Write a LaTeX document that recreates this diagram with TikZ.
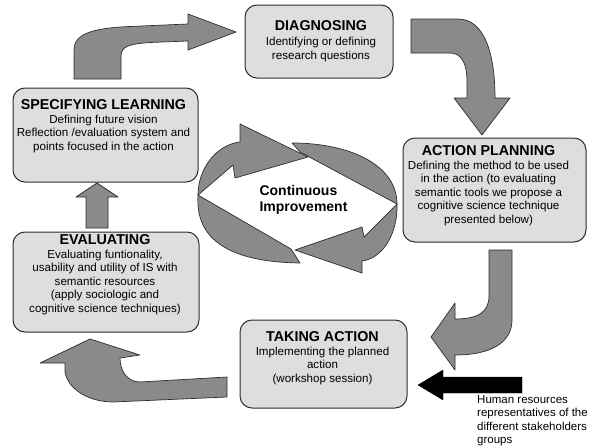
\documentclass[tikz,border=0pt]{standalone}
\usepackage{fontspec}
\setmainfont{Liberation Sans}
\usetikzlibrary{positioning}
\definecolor{boxgray}{RGB}{222,222,222}
\definecolor{arrowgray}{RGB}{138,138,138}
\definecolor{edgegray}{RGB}{45,45,45}
\newcommand{\titolo}[1]{{\fontsize{14.3}{13.5}\selectfont\bfseries #1}}

\begin{document}
\begin{tikzpicture}[x=1pt, y=-1pt, line join=round,
  box/.style={draw=edgegray, line width=1pt, fill=boxgray, rounded corners=12pt, inner sep=0pt},
  boxtext/.style={align=center, inner sep=0pt, font=\fontsize{11.6}{13.5}\selectfont},
  fatarrow/.style={draw=edgegray, line width=0.7pt, fill=arrowgray}]

  \useasboundingbox (0,0) rectangle (589,447);

  %--- riquadri
  \node[box, minimum width=148pt, minimum height=73pt]  (diag) at (319,41.5) {};
  \node[box, minimum width=185pt, minimum height=94pt]  (spec) at (105.5,135) {};
  \node[box, minimum width=183pt, minimum height=104pt] (plan) at (494.5,190) {};
  \node[box, minimum width=186pt, minimum height=100pt] (eval) at (106,282) {};
  \node[box, minimum width=167pt, minimum height=88pt]  (act)  at (323.5,364) {};

  %--- testi dei riquadri
  \node[boxtext, below=15.5pt of diag.north, xshift=2pt] (diagtxt)
    {\titolo{DIAGNOSING}\\[2pt] Identifying or defining\\research questions};
  \node[boxtext, below=12pt of spec.north, xshift=-2pt] (spectxt)
    {\titolo{SPECIFYING LEARNING}\\Defining future vision\\Reflection /evaluation system and\\points focused in the action};
  \node[boxtext, below=8pt of plan.north, xshift=-6pt] (plantxt)
    {\titolo{ACTION PLANNING}\\Defining the method to be used\\in the action (to evaluating\\semantic tools we propose a\\cognitive science technique\\presented below)};
  \node[boxtext, below=3pt of eval.north, xshift=-1pt] (evaltxt)
    {\titolo{EVALUATING}\\Evaluating funtionality,\\usability and utility of IS with\\semantic resources\\(apply sociologic and\\cognitive science techniques)};
  \node[boxtext, below=12pt of act.north, xshift=-1pt] (acttxt)
    {\titolo{TAKING ACTION}\\Implementing the planned\\action\\(workshop session)};

  %--- frecce del ciclo
  \draw[fatarrow] (74,79) -- (74,50) .. controls (74,33) and (95,28) .. (130,26.5)
    -- (188,24) -- (188,14) -- (236,32) -- (188,50) -- (188,41) -- (150,42.5)
    .. controls (130,44) and (121,46) .. (121,56) -- (121,79) -- cycle;
  \draw[fatarrow] (411,19) -- (458,19) .. controls (485,19) and (495,55) .. (495,98)
    -- (510,98) -- (482,135) -- (454,98) -- (467,98) -- (467,82)
    .. controls (467,64) and (462,53) .. (450,53) -- (411,53) -- cycle;
  \draw[fatarrow] (489,250) -- (512,250) -- (512,320) .. controls (512,342) and (492,355) .. (455,355)
    -- (455,370) -- (431,337) -- (455,303) -- (455,319)
    .. controls (478,319) and (489,312) .. (489,296) -- cycle;
  \draw[fatarrow] (227,377) -- (140,382) .. controls (128,382) and (120,372) .. (120,358)
    -- (140,355) -- (90,339) -- (40,363) -- (65,363) -- (65,372)
    .. controls (68,390) and (90,402) .. (113,402) -- (227,397) -- cycle;
  \draw[fatarrow] (86,228) -- (86,197) -- (76,197) -- (97,183) -- (118,197)
    -- (108,197) -- (108,228) -- cycle;

  %--- miglioramento continuo
  \draw[fatarrow] (198,195) .. controls (195,240) and (230,262) .. (300,263) -- (291,249) -- cycle;
  \draw[fatarrow] (292,143) .. controls (350,143) and (397,165) .. (397,204) -- (300,152) -- cycle;
  \draw[fatarrow] (198,195) .. controls (198,170) and (215,145) .. (240,142) -- (240,124)
    -- (308,157) -- (235,178) -- (233,165) -- cycle;
  \draw[fatarrow] (397,204) .. controls (398,230) and (385,258) .. (362,261) -- (362,273)
    -- (295,250) -- (362,227) -- (364,237) -- cycle;
  \node[align=left, inner sep=0pt, font=\bfseries\fontsize{14}{16}\selectfont] (ci)
    at (303.5,200) {Continuous\\Improvement};

  %--- risorse umane
  \draw[fill=black] (522,377) -- (443,377) -- (443,370) -- (418,385) -- (443,400)
    -- (443,393) -- (522,393) -- cycle;
  \node[anchor=north west, align=left, inner sep=0pt, font=\fontsize{11.5}{13.2}\selectfont] (hr)
    at (477,395.5) {Human resources\\representatives of the\\different stakeholders\\groups};
\end{tikzpicture}
\end{document}
